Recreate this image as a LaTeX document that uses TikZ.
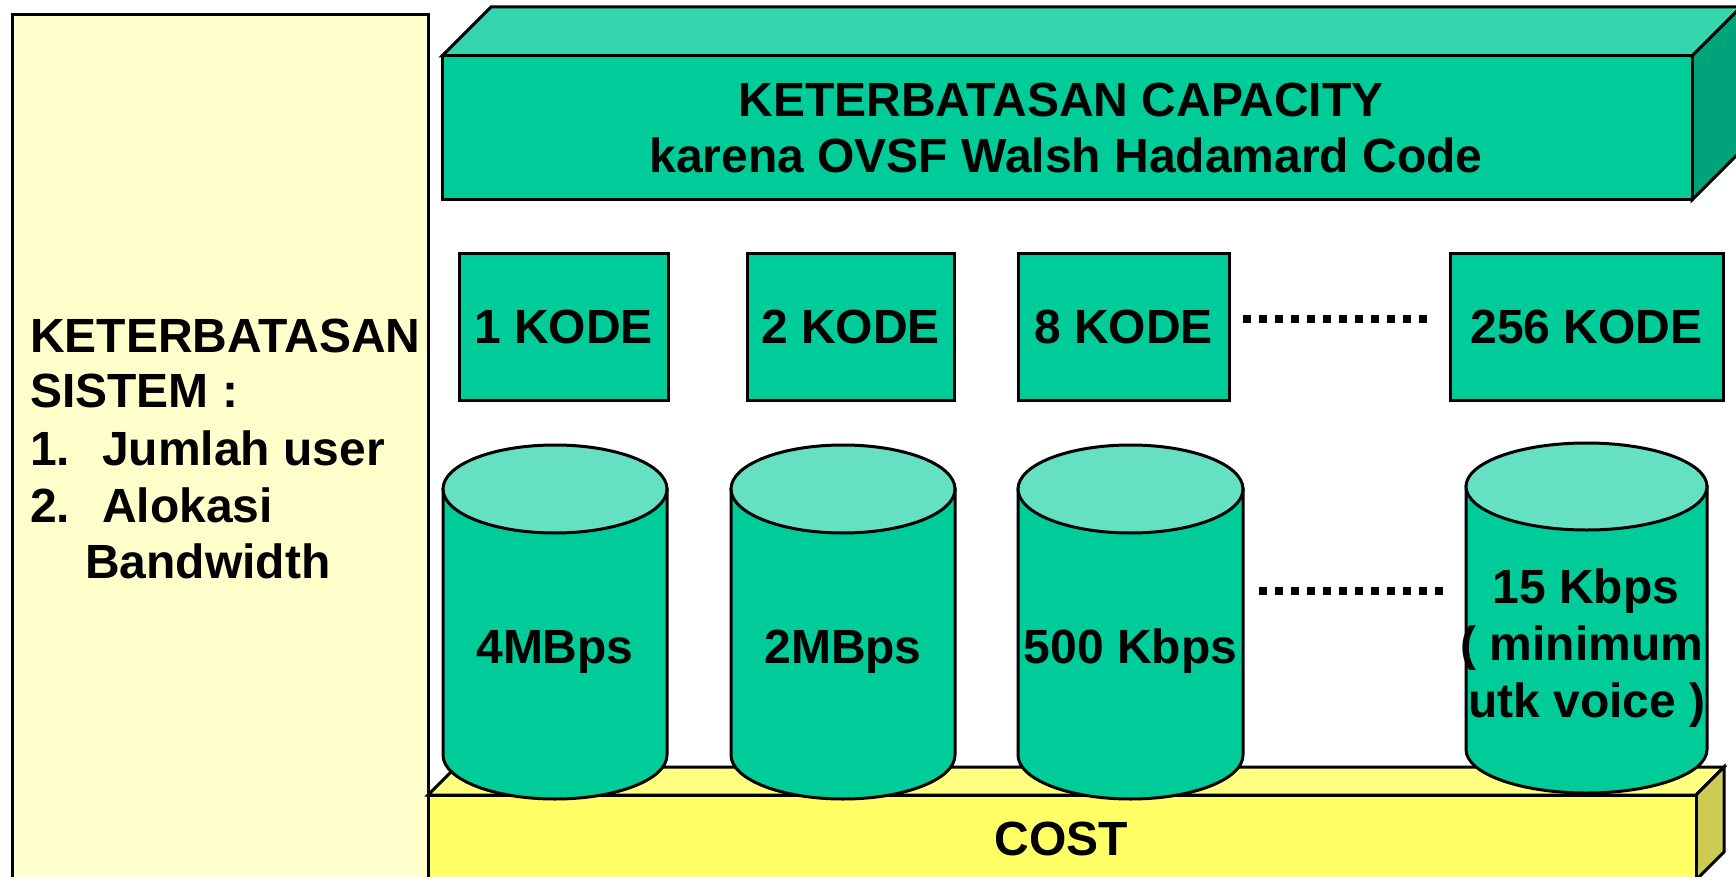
\documentclass[tikz,border=0pt]{standalone}
\usepackage{fontspec}
\setmainfont{Liberation Sans}
\definecolor{tealfront}{RGB}{0,204,153}
\definecolor{tealtop}{RGB}{51,214,173}
\definecolor{tealside}{RGB}{0,163,122}
\definecolor{cyltop}{RGB}{102,224,194}
\definecolor{panelfill}{RGB}{255,255,204}
\definecolor{costfront}{RGB}{255,255,102}
\definecolor{costtop}{RGB}{255,255,128}
\definecolor{costside}{RGB}{204,204,82}
\newcommand\drawcyl[5]{%
  \draw[edge,fill=tealfront] (#1-#2,#3) -- (#1-#2,#4)
     arc[start angle=180,end angle=360,x radius=#2pt,y radius=#5pt] -- (#1+#2,#3) -- cycle;
  \draw[edge,fill=cyltop] (#1,#3) ellipse[x radius=#2pt,y radius=#5pt];
}
\begin{document}
\begin{tikzpicture}[x=1pt,y=-1pt,
  edge/.style={draw=black,line width=3pt,line join=miter},
  txt/.style={font=\fontsize{48}{56}\selectfont\bfseries,inner sep=0pt},
  kodebox/.style={edge,fill=tealfront,minimum height=146pt,inner sep=0pt,
                  font=\fontsize{48}{56}\selectfont\bfseries},
  dotrow/.style={line width=8pt,dash pattern=on 8pt off 8pt}]
\useasboundingbox (0,0) rectangle (1736,877);
\clip (0,0) rectangle (1736,877);

% left panel
\draw[edge,fill=panelfill] (12,15) rectangle (428,900);
\node[txt,anchor=base west] (l1) at (30,352) {KETERBATASAN};
\node[txt,anchor=base west] (l2) at (30,407) {SISTEM :};
\node[txt,anchor=base west] (l3n) at (30,465) {1.};
\node[txt,anchor=base west] (l3) at (102,465) {Jumlah user};
\node[txt,anchor=base west] (l4n) at (30,522) {2.};
\node[txt,anchor=base west] (l4) at (102,522) {Alokasi};
\node[txt,anchor=base west] (l5) at (85,578) {Bandwidth};

% top 3D box
\draw[edge,fill=tealtop] (442,56) -- (491,7) -- (1741,7) -- (1692,56) -- cycle;
\draw[edge,fill=tealside] (1692,56) -- (1741,7) -- (1741,151) -- (1692,200) -- cycle;
\draw[edge,fill=tealfront] (442,56) rectangle (1692,200);
\node[txt,anchor=base] (cap1) at (1061,117) {KETERBATASAN CAPACITY};
\node[txt,anchor=base] (cap2) at (1066,173) {karena OVSF Walsh Hadamard Code};

% code boxes
\node[kodebox,minimum width=209pt] (k1) at (563.5,327) {1 KODE};
\node[kodebox,minimum width=207pt] (k2) at (850.5,327) {2 KODE};
\node[kodebox,minimum width=211pt] (k3) at (1123.5,327) {8 KODE};
\node[kodebox,minimum width=273pt] (k4) at (1586.5,327) {256 KODE};
\coordinate (da1) at (1243,319);
\coordinate (db1) at (1427,319);
\draw[dotrow] (da1) -- (db1);

% cost box
\draw[edge,fill=costtop] (428,795) -- (456,767) -- (1724,767) -- (1696,795) -- cycle;
\draw[edge,fill=costside] (1696,795) -- (1724,767) -- (1724,852) -- (1696,880) -- cycle;
\draw[edge,fill=costfront] (428,795) rectangle (1696,900);
\node[txt,anchor=base] (cost) at (1061,855) {COST};

% cylinders
\drawcyl{555}{112}{489}{755}{44}
\drawcyl{843}{112}{489}{755}{44}
\drawcyl{1130.5}{112.5}{489}{755}{44}
\drawcyl{1586.5}{120.5}{486.5}{749.5}{43.5}
\node[txt,anchor=base] (c1) at (555,663) {4MBps};
\node[txt,anchor=base] (c2) at (843,663) {2MBps};
\node[txt,anchor=base] (c3) at (1130.5,663) {500 Kbps};
\node[txt,anchor=base] (c4a) at (1586,603) {15 Kbps};
\node[txt,anchor=base] (c4b) at (1582,660) {( minimum};
\node[txt,anchor=base] (c4c) at (1587,717) {utk voice )};
\coordinate (da2) at (1259,591);
\coordinate (db2) at (1443,591);
\draw[dotrow] (da2) -- (db2);
\end{tikzpicture}
\end{document}
